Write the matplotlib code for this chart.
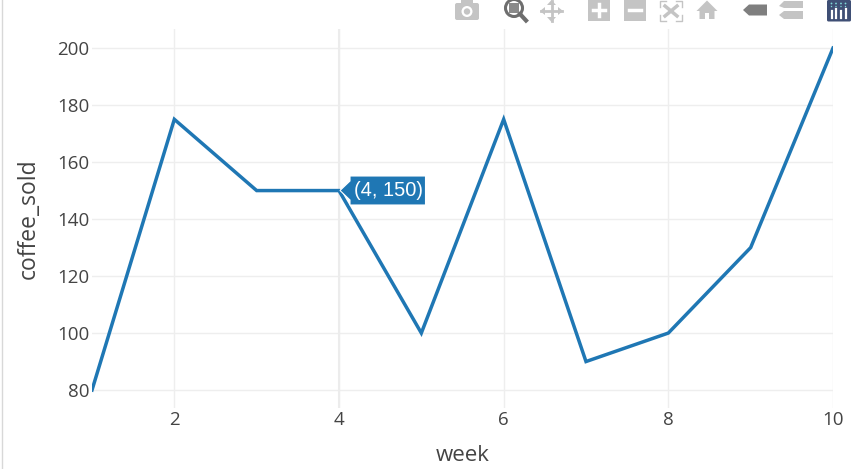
import matplotlib
matplotlib.use("Agg")
import matplotlib.pyplot as plt
from matplotlib.patches import Polygon, Rectangle, Circle, FancyBboxPatch

W, H = 859, 469

week = [1, 2, 3, 4, 5, 6, 7, 8, 9, 10]
coffee_sold = [80, 175, 150, 150, 100, 175, 90, 100, 130, 200]
x_ticks = [2, 4, 6, 8, 10]
y_ticks = [80, 100, 120, 140, 160, 180, 200]
hover_text = "(4, 150)"

plt.rcParams['font.family'] = ['Open Sans', 'DejaVu Sans']

BLUE = "#1f77b4"
GREY = "#c4c4c4"
TEXT = "#444444"

fig = plt.figure(figsize=(W / 100, H / 100), dpi=100)

# main axes, placed by pixels
left, right, top, bottom = 92, 833, 29, 408
ax = fig.add_axes([left / W, 1 - bottom / H, (right - left) / W, (bottom - top) / H])
ax.plot(week, coffee_sold, color=BLUE, lw=2.5, solid_joinstyle="miter", zorder=3)
ax.set_xlim(1, 10)
ax.set_ylim(73.7, 206.7)
ax.set_xticks(x_ticks)
ax.set_yticks(y_ticks)
ax.grid(True, color="#eeeeee", lw=1)
ax.set_axisbelow(True)
ax.axvline(4, color="#ececec", lw=1.5, zorder=1)
for s in ax.spines.values():
    s.set_visible(False)
ax.tick_params(length=0, labelsize=13.5, labelcolor=TEXT, pad=2)
ax.set_xlabel("week", fontsize=16, color=TEXT, labelpad=11.5)
ax.set_ylabel("coffee_sold", fontsize=16.5, color=TEXT, labelpad=12)

# overlay in pixel coords for the hover label and the toolbar
ov = fig.add_axes([0, 0, 1, 1], facecolor="none")
ov.set_xlim(0, W)
ov.set_ylim(H, 0)
ov.axis("off")

# left edge of the page
ov.plot([1.5, 1.5], [0, H], color="#d8d8d8", lw=1)

# hover label
ov.add_patch(Polygon([(340, 190.5), (350, 181), (350, 176), (425.5, 176), (425.5, 205),
                      (350, 205), (350, 200)], closed=True, fc=BLUE, ec="white", lw=0.8, zorder=5))
ov.text(388.5, 191, hover_text, color="white", fontsize=14.5, family="Liberation Sans",
        ha="center", va="center", zorder=6)

# camera
ov.add_patch(FancyBboxPatch((455, 3), 24, 17, boxstyle="round,pad=0,rounding_size=2", fc=GREY, ec="none"))
ov.add_patch(Rectangle((461, 0.5), 12, 3, fc=GREY, ec="none"))
ov.add_patch(Circle((467, 11.5), 5.5, fc="white", ec="none"))
ov.add_patch(Circle((467, 11.5), 3.2, fc=GREY, ec="none"))

# zoom (active)
ov.add_patch(Circle((514, 8), 8.5, fc="none", ec="#6e6e6e", lw=2.2))
ov.add_patch(Rectangle((509, 3.5), 10, 9.5, fc="#8a8a8a", ec="none"))
ov.plot([520, 526], [14, 20.5], color="#6e6e6e", lw=3)

# pan
ov.plot([541, 562], [11, 11], color=GREY, lw=2)
ov.plot([551.5, 551.5], [1, 21], color=GREY, lw=2)
for pts in ([(540, 11), (545, 7), (545, 15)], [(563, 11), (558, 7), (558, 15)],
            [(551.5, 0), (547, 5), (556, 5)], [(551.5, 22), (547, 17), (556, 17)]):
    ov.add_patch(Polygon(pts, closed=True, fc=GREY, ec="none"))

# zoom in / zoom out
ov.add_patch(Rectangle((588, 0), 22, 21, fc=GREY, ec="none"))
ov.plot([593, 605], [10.5, 10.5], color="white", lw=2.5)
ov.plot([599, 599], [4.5, 16.5], color="white", lw=2.5)
ov.add_patch(Rectangle((624, 0), 22, 21, fc=GREY, ec="none"))
ov.plot([629, 641], [10.5, 10.5], color="white", lw=2.5)

# autoscale
for cx, cy, dx, dy in [(660, 1, 1, 1), (682, 1, -1, 1), (660, 21, 1, -1), (682, 21, -1, -1)]:
    ov.plot([cx + 6 * dx, cx, cx], [cy, cy, cy + 6 * dy], color=GREY, lw=1)
ov.plot([665, 677], [6, 16], color=GREY, lw=2.5)
ov.plot([677, 665], [6, 16], color=GREY, lw=2.5)

# home
ov.add_patch(Polygon([(707, 0.5), (696.5, 11), (699.5, 11), (699.5, 19), (705, 19), (705, 13), (709, 13),
                      (709, 19), (714.5, 19), (714.5, 11), (717.5, 11)], closed=True, fc=GREY, ec="none"))

# spike closest / compare
ov.add_patch(Polygon([(743, 10), (749, 4.5), (767, 4.5), (767, 15.5), (749, 15.5)],
                     closed=True, fc="#7f7f7f", ec="none"))
ov.add_patch(Polygon([(779, 6), (784, 1), (803, 1), (803, 8), (784, 8)], closed=True, fc=GREY, ec="none"))
ov.add_patch(Polygon([(779, 15), (784, 11), (803, 11), (803, 19), (784, 19)], closed=True, fc=GREY, ec="none"))

# logo
ov.add_patch(FancyBboxPatch((827, 0), 24, 21.5, boxstyle="round,pad=0,rounding_size=1.5",
                            fc="#3f4f75", ec="none"))
for bx, by in [(831.5, 11), (836, 9), (841, 11), (845.5, 9)]:
    ov.plot([bx, bx], [by, 18], color="white", lw=1.6)
for bx in (831.5, 836, 841, 845.5):
    ov.add_patch(Circle((bx, 3.5), 0.9, fc="#7fd6d6", ec="none"))
    ov.add_patch(Circle((bx, 6.5), 0.7, fc="#7fd6d6", ec="none"))

fig.savefig("out.png", dpi=100)
